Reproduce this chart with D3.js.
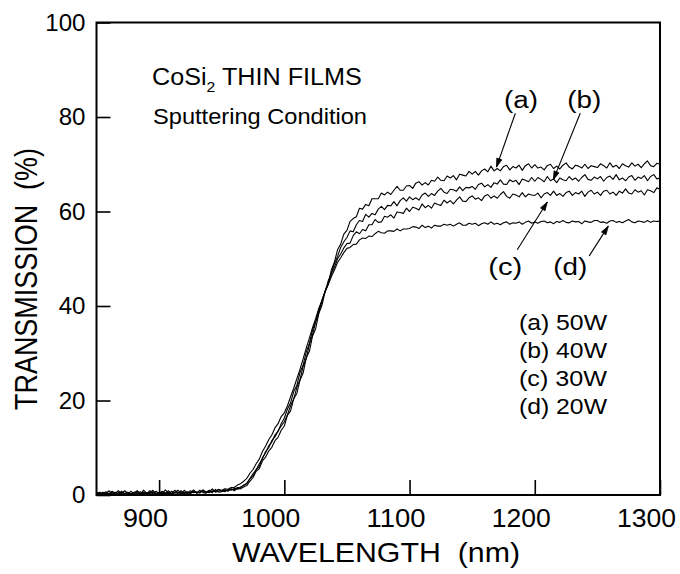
<!DOCTYPE html>
<html>
<head>
<meta charset="utf-8">
<script src="https://cdn.jsdelivr.net/npm/d3@7"></script>
<style>
  html, body { margin: 0; padding: 0; background: #fff; }
  svg { display: block; font-family: "Liberation Sans", Arial, Helvetica, sans-serif; }
</style>
</head>
<body>
<svg id="chart" width="680" height="574"></svg>
<script>
// Wavelength grid (nm): 850 to 1300 nm in 2.5 nm steps
const wavelengths = d3.range(0, 181).map(i => 850 + i * 2.5);

// Transmission (%) of CoSi2 films, one row per 50 nm
const series50W = [
  0.2,0.5,0.1,0.3,0.9,0.2,0.4,0.1,0.6,0.3,0.2,0.8,0.3,0.5,0.2,1.0,0.4,0.3,0.7,0.2,
  0.5,0.3,1.1,0.4,0.2,0.6,0.3,0.9,0.4,0.5,0.3,0.7,0.4,1.0,0.5,0.4,0.8,0.5,1.2,0.6,
  0.7,1.1,0.8,1.3,0.9,1.4,1.3,1.7,2.0,2.9,3.7,5.0,5.6,7.2,8.0,9.3,10.1,11.5,12.2,13.7,
  14.6,16.9,17.8,20.4,21.5,24.3,25.8,29.0,30.4,33.6,35.2,38.4,40.1,43.0,44.6,47.6,49.3,51.9,53.1,55.2,
  56.0,57.9,58.5,58.9,60.7,60.5,61.5,61.2,62.7,62.7,62.7,63.9,63.5,64.1,63.6,64.5,65.3,64.5,64.5,65.4,
  65.5,64.9,66.0,66.3,65.6,66.1,65.6,66.6,66.4,67.3,66.6,66.5,67.5,67.1,67.6,66.7,67.9,67.7,67.5,68.5,
  67.9,68.5,67.7,68.6,69.0,68.4,69.6,68.6,69.1,68.6,69.5,69.8,68.8,69.5,69.2,69.8,68.7,69.7,70.1,69.2,
  69.9,69.2,69.4,68.8,69.7,70.0,69.1,69.6,69.0,69.8,70.3,69.4,69.0,69.8,69.6,69.2,70.0,69.1,69.7,69.5,
  69.3,70.1,69.7,69.2,70.3,69.4,69.8,69.1,70.1,69.7,69.4,70.3,69.6,70.0,69.3,70.1,70.7,69.7,69.5,70.2,
  70.0
];
const series40W = [
  0.4,0.2,0.6,0.3,0.2,0.7,0.4,0.9,0.2,0.3,0.6,0.2,0.5,0.8,0.3,0.4,0.2,0.9,0.5,0.3,
  0.6,0.2,0.4,0.9,0.3,0.5,1.0,0.4,0.3,0.7,0.5,1.1,0.4,0.6,0.9,0.5,0.7,1.3,0.6,0.8,
  0.9,0.7,1.2,1.0,1.4,1.2,1.7,2.0,2.5,3.5,4.5,5.3,6.6,7.6,9.2,10.0,11.5,12.3,13.6,14.6,
  15.5,17.0,18.9,20.3,22.8,24.4,27.2,28.9,31.8,33.9,36.6,38.5,41.2,42.9,45.3,46.9,49.0,50.5,52.4,53.6,
  54.5,55.9,55.7,57.2,58.1,57.9,59.4,58.8,59.6,59.3,60.5,61.1,60.4,61.3,61.2,62.1,61.2,62.3,62.9,62.2,
  63.1,62.5,62.9,62.4,63.5,63.9,63.2,63.8,63.4,64.3,64.9,64.1,63.8,64.7,64.6,64.3,65.2,64.4,65.1,65.0,
  65.3,64.7,65.7,66.0,65.2,65.7,65.1,66.1,65.8,66.7,65.8,65.7,66.7,66.3,66.6,65.7,66.9,66.6,66.3,67.2,
  66.4,67.2,66.8,66.3,67.4,66.5,66.9,66.1,67.1,66.7,66.5,67.4,66.7,67.1,66.4,67.2,67.8,66.8,66.6,67.3,
  66.9,67.4,66.4,67.2,67.5,66.8,67.8,66.7,67.1,66.5,67.3,67.6,66.6,67.3,67.0,67.6,66.5,67.4,67.8,66.9,
  67.1
];
const series30W = [
  0.3,0.6,0.2,0.4,0.3,0.8,0.2,0.5,0.3,0.9,0.4,0.2,0.6,0.3,0.7,0.2,0.5,0.4,1.0,0.3,
  0.4,0.8,0.3,0.5,0.3,1.0,0.5,0.4,0.6,0.3,0.9,0.5,0.7,0.4,1.1,0.6,0.5,0.9,0.7,1.2,
  0.8,1.0,0.9,1.3,1.1,1.6,1.5,2.1,2.4,3.4,4.1,5.4,6.0,7.9,8.9,10.4,11.2,12.7,13.4,15.1,
  16.3,18.2,19.5,21.9,23.2,25.9,27.5,30.3,32.1,34.9,36.7,39.2,40.9,43.2,44.7,46.8,48.2,50.0,51.0,52.3,
  53.2,53.3,54.9,55.7,55.3,56.2,55.9,57.2,57.2,58.3,57.7,57.8,59.0,58.8,59.3,58.6,59.9,59.8,59.6,60.7,
  60.0,60.9,60.7,60.3,61.6,60.8,61.3,60.7,61.8,61.5,61.3,62.4,61.8,62.3,61.6,62.4,63.1,62.2,62.1,62.9,
  63.3,62.6,62.9,62.3,63.3,63.6,62.8,63.3,62.8,63.6,64.2,63.2,62.8,63.7,63.5,63.1,64.0,63.1,63.7,63.5,
  63.4,63.9,62.9,63.7,64.0,63.4,64.3,63.4,63.8,63.2,64.0,64.3,63.4,64.0,63.7,64.3,63.2,64.1,64.5,63.7,
  64.1,63.4,64.3,64.5,63.7,64.1,63.4,64.3,63.9,64.8,63.9,63.7,64.6,64.1,64.4,63.5,64.6,64.4,64.0,65.0,
  64.7
];
const series20W = [
  0.5,0.2,0.3,0.7,0.2,0.4,0.6,0.2,0.8,0.3,0.5,0.2,0.4,0.9,0.3,0.6,0.2,0.5,0.3,0.8,
  0.3,0.6,0.4,0.2,0.8,0.4,0.6,0.3,1.0,0.5,0.4,0.8,0.5,0.6,0.9,0.6,1.0,0.7,0.9,1.1,
  1.0,1.3,1.2,1.6,1.6,2.1,2.4,2.9,3.5,4.6,5.4,6.6,7.6,9.2,10.3,11.7,12.7,14.2,15.1,16.6,
  17.4,18.9,20.8,22.6,24.6,26.6,28.8,31.1,33.2,35.4,37.3,39.5,41.2,43.0,44.5,46.2,47.6,49.2,50.2,51.3,
  52.2,52.4,53.0,53.1,54.0,54.4,54.3,54.8,54.7,55.3,55.8,55.5,55.4,55.9,55.9,55.8,56.3,55.9,56.3,56.3,
  56.4,56.8,56.7,56.4,57.1,56.6,56.9,56.5,57.1,56.9,56.9,57.3,57.1,57.3,56.9,57.3,57.6,57.1,57.1,57.5,
  57.3,57.5,57.0,57.4,57.6,57.3,57.8,57.3,57.5,57.2,57.6,57.8,57.3,57.6,57.5,57.8,57.3,57.7,58.0,57.5,
  57.8,57.5,57.9,58.0,57.6,57.8,57.4,57.9,57.7,58.1,57.7,57.6,58.0,57.8,57.9,57.4,58.0,57.8,57.7,58.1,
  58.1,57.7,57.8,57.5,58.0,58.1,57.7,57.9,57.6,58.0,58.3,57.8,57.6,58.0,57.9,57.7,58.1,57.7,58.0,57.9,
  57.9
];

const seriesValues = [series50W, series40W, series30W, series20W];
const legendLabels = ["(a) 50W", "(b) 40W", "(c) 30W", "(d) 20W"];

const xTicks = [900, 1000, 1100, 1200, 1300];
const yTicks = [0, 20, 40, 60, 80, 100];

// Curve tags: label anchor, arrow tail and arrow tip in data units (nm, %)
const tagLabels = [
  { key: "(a)", lx: 1189, ly: 81.9, sx: 1184.5, sy: 80.8, tx: 1169.4, ty: 69.4 },
  { key: "(b)", lx: 1239.5, ly: 81.9, sx: 1236.3, sy: 80.8, tx: 1214.8, ty: 66.7 },
  { key: "(c)", lx: 1176.5, ly: 46.6, sx: 1186, sy: 51.9, tx: 1210, ty: 62.0 },
  { key: "(d)", lx: 1228.4, ly: 46.6, sx: 1243.5, sy: 50.6, tx: 1258.7, ty: 56.9 }
];

const svg = d3.select("#chart");
const x = d3.scaleLinear().domain([850, 1300]).range([96.5, 660]);
const y = d3.scaleLinear().domain([0, 100]).range([495, 22.5]);

// Transmission curves
const line = d3.line()
  .x((d, i) => x(wavelengths[i]))
  .y(d => y(d));

svg.append("g")
  .selectAll("path")
  .data(seriesValues)
  .join("path")
  .attr("d", line)
  .attr("fill", "none")
  .attr("stroke", "#000")
  .attr("stroke-width", 1.1)
  .attr("stroke-linejoin", "round");

// Frame
svg.append("rect")
  .attr("x", x(850)).attr("y", y(100))
  .attr("width", x(1300) - x(850)).attr("height", y(0) - y(100))
  .attr("fill", "none").attr("stroke", "#000").attr("stroke-width", 2);

// Axes with inward ticks
const xAxis = d3.axisBottom(x).tickValues(xTicks).tickSize(-15).tickPadding(0).tickFormat(d3.format("d"));
const gx = svg.append("g").attr("transform", `translate(0,${y(0)})`).call(xAxis);
gx.select(".domain").remove();
gx.selectAll(".tick line").attr("stroke", "#000").attr("stroke-width", 1.6);
gx.selectAll(".tick text")
  .attr("y", 32).attr("dy", 0).attr("dx", -14)
  .attr("font-size", 25.5).attr("fill", "#000")
  .attr("font-family", "Liberation Sans, Arial, sans-serif")
  .attr("textLength", d => d >= 1000 ? 59 : 45)
  .attr("lengthAdjust", "spacingAndGlyphs");

const yAxis = d3.axisLeft(y).tickValues(yTicks).tickSize(-14).tickPadding(11).tickFormat(d3.format("d"));
const gy = svg.append("g").attr("transform", `translate(${x(850)},0)`).call(yAxis);
gy.select(".domain").remove();
gy.selectAll(".tick line").attr("stroke", "#000").attr("stroke-width", 1.6);
gy.selectAll(".tick text")
  .attr("font-size", 23.5).attr("fill", "#000")
  .attr("font-family", "Liberation Sans, Arial, sans-serif")
  .attr("textLength", d => String(d).length * 13.4)
  .attr("lengthAdjust", "spacingAndGlyphs");

// Axis titles
svg.append("text")
  .attr("x", 376).attr("y", 562)
  .attr("text-anchor", "middle")
  .attr("font-size", 28)
  .attr("textLength", 288).attr("lengthAdjust", "spacingAndGlyphs")
  .text("WAVELENGTH\u00A0\u00A0(nm)");

svg.append("text")
  .attr("transform", "translate(37,279) rotate(-90)")
  .attr("text-anchor", "middle")
  .attr("font-size", 31)
  .attr("textLength", 262).attr("lengthAdjust", "spacingAndGlyphs")
  .text("TRANSMISSION\u00A0\u00A0(%)");

// Sample description
const title = svg.append("text")
  .attr("transform", "translate(152,85) scale(1.05,1)")
  .attr("font-size", 24);
title.append("tspan").text("CoSi");
title.append("tspan").attr("font-size", 15).attr("dy", 7).text("2");
title.append("tspan").attr("dy", -7).text(" THIN FILMS");

svg.append("text")
  .attr("x", 153).attr("y", 124)
  .attr("font-size", 22)
  .attr("textLength", 214).attr("lengthAdjust", "spacingAndGlyphs")
  .text("Sputtering Condition");

// Legend of sputtering powers
svg.append("g")
  .selectAll("text")
  .data(legendLabels)
  .join("text")
  .attr("x", 519)
  .attr("y", (d, i) => 329.5 + i * 28.3)
  .attr("font-size", 22)
  .attr("textLength", 88).attr("lengthAdjust", "spacingAndGlyphs")
  .text(d => d);

// Curve tags with arrows
const tags = svg.append("g");
tags.selectAll("text")
  .data(tagLabels)
  .join("text")
  .attr("x", d => x(d.lx))
  .attr("y", d => y(d.ly))
  .attr("text-anchor", "middle")
  .attr("font-size", 23)
  .attr("textLength", 34).attr("lengthAdjust", "spacingAndGlyphs")
  .text(d => d.key);

tags.selectAll("g.arrow")
  .data(tagLabels)
  .join("g")
  .attr("class", "arrow")
  .each(function (d) {
    const g = d3.select(this);
    const sx = x(d.sx), sy = y(d.sy);
    const ex = x(d.tx), ey = y(d.ty);
    g.append("line")
      .attr("x1", sx).attr("y1", sy).attr("x2", ex).attr("y2", ey)
      .attr("stroke", "#000").attr("stroke-width", 1.1);
    const ang = Math.atan2(ey - sy, ex - sx);
    const len = 9, spread = 0.3;
    const p1 = [ex - len * Math.cos(ang - spread), ey - len * Math.sin(ang - spread)];
    const p2 = [ex - len * Math.cos(ang + spread), ey - len * Math.sin(ang + spread)];
    g.append("path")
      .attr("d", `M${p1[0]},${p1[1]}L${ex},${ey}L${p2[0]},${p2[1]}Z`)
      .attr("fill", "#000").attr("stroke", "#000").attr("stroke-width", 0.8);
  });
</script>
</body>
</html>
